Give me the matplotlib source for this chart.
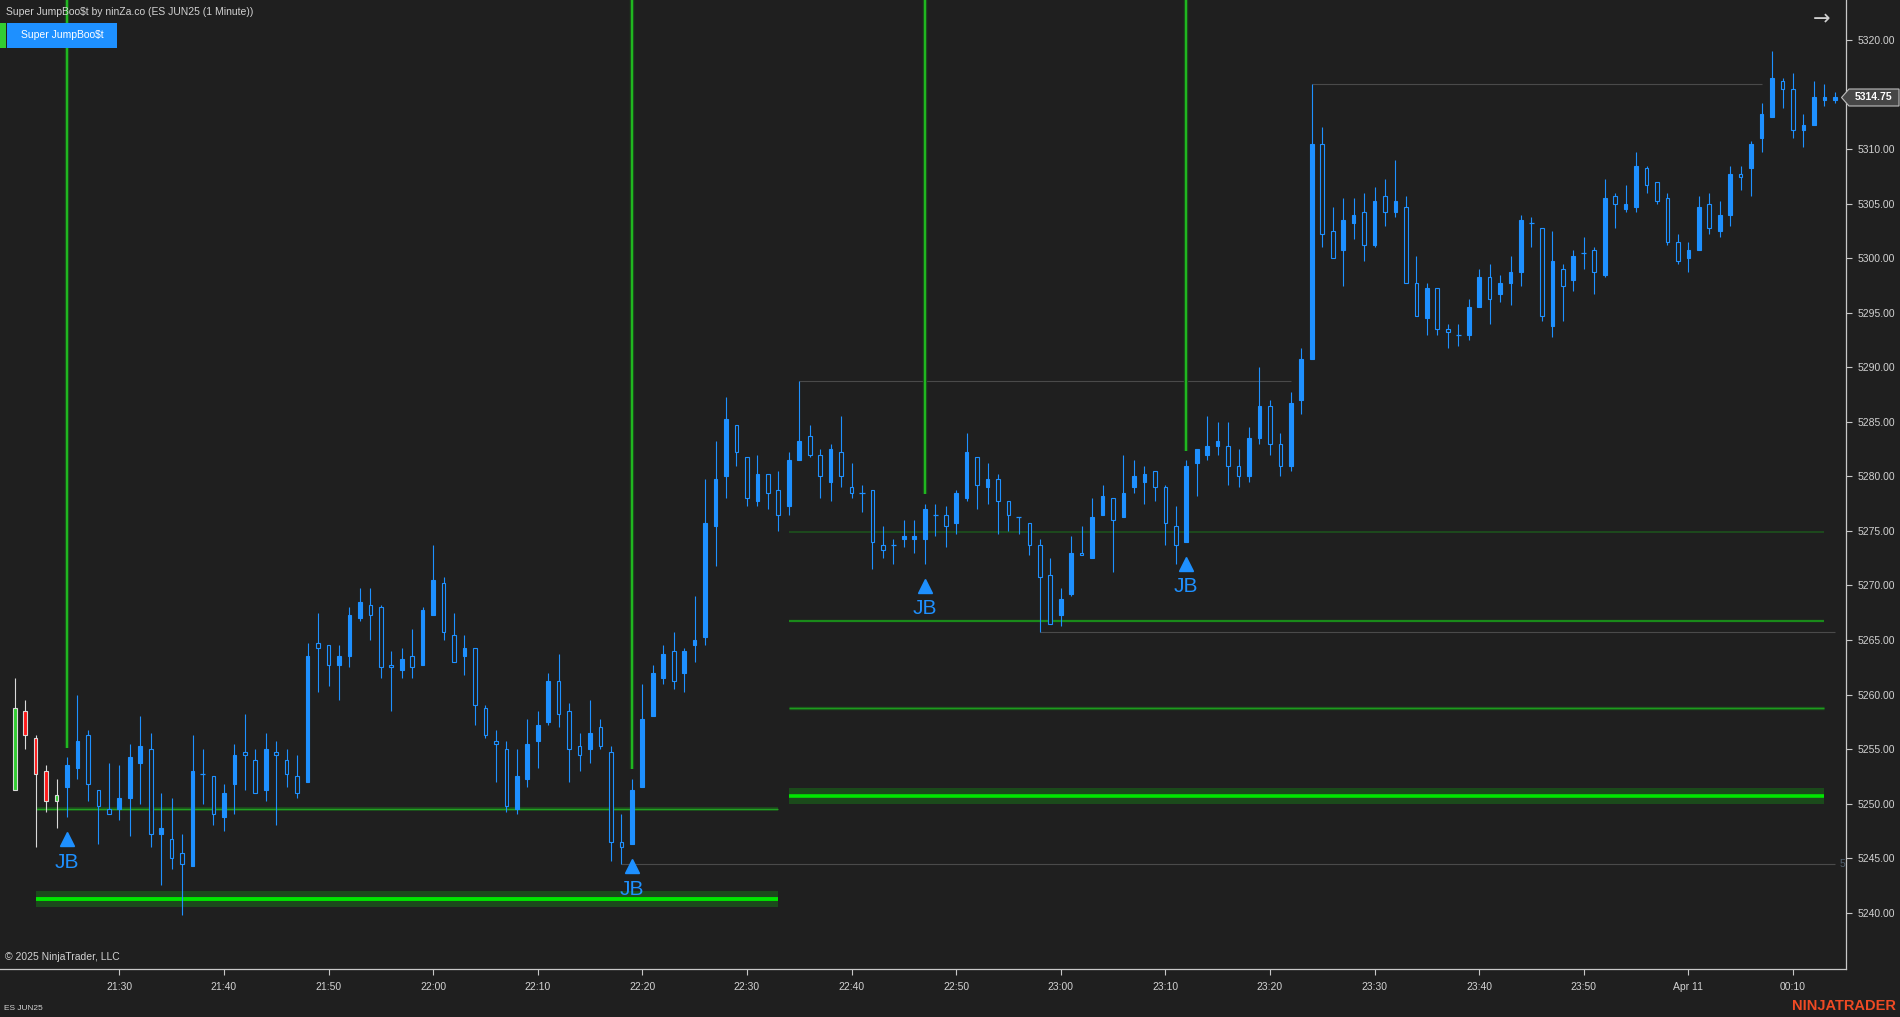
import matplotlib
matplotlib.use("Agg")
import matplotlib.pyplot as plt
from matplotlib.patches import Rectangle, Polygon
from matplotlib.transforms import offset_copy

plt.rcParams['font.family'] = ['Liberation Sans', 'DejaVu Sans']

# ES JUN25, 1 minute bars, index 0 = 21:20
opens = [5251.25, 5258.5, 5256.0, 5253.0, 5250.25, 5251.5, 5253.25, 5256.25, 5251.25, 5249.5,
         5249.5, 5250.5, 5253.75, 5255.0, 5247.25, 5246.75, 5245.5, 5244.25, 5252.75, 5252.5,
         5248.75, 5251.75, 5254.75, 5254.0, 5251.25, 5254.75, 5254.0, 5252.5, 5252.0, 5264.75,
         5264.5, 5262.75, 5263.5, 5267.0, 5268.25, 5268.0, 5262.75, 5262.25, 5263.5, 5262.75,
         5267.25, 5270.25, 5265.5, 5263.5, 5264.25, 5258.75, 5255.75, 5255.0, 5249.5, 5252.25,
         5255.75, 5257.5, 5261.25, 5258.5, 5255.25, 5255.0, 5257.0, 5254.75, 5246.5, 5246.25,
         5251.5, 5258.0, 5261.5, 5264.0, 5262.0, 5264.5, 5265.25, 5275.5, 5280.0, 5284.75,
         5281.75, 5277.75, 5280.25, 5278.75, 5277.25, 5281.5, 5283.75, 5282.0, 5279.5, 5282.25,
         5279.0, 5278.5, 5278.75, 5273.75, 5273.75, 5274.25, 5274.25, 5274.25, 5276.5, 5276.5,
         5275.75, 5278.0, 5281.75, 5279.0, 5279.75, 5277.75, 5276.25, 5275.75, 5273.75, 5271.0,
         5267.25, 5269.25, 5273.0, 5272.5, 5276.5, 5278.0, 5276.25, 5279.0, 5279.5, 5280.5,
         5279.0, 5275.5, 5274.0, 5281.25, 5282.0, 5282.75, 5282.75, 5281.0, 5280.0, 5283.5,
         5286.5, 5283.0, 5281.0, 5287.0, 5290.75, 5310.5, 5302.5, 5300.75, 5303.25, 5304.25,
         5301.25, 5305.75, 5304.25, 5304.75, 5297.75, 5294.5, 5297.25, 5293.5, 5293.0, 5293.0,
         5295.5, 5298.25, 5296.75, 5297.75, 5298.75, 5303.25, 5302.75, 5293.75, 5299.0, 5298.0,
         5300.5, 5300.75, 5298.5, 5305.75, 5304.5, 5304.75, 5308.25, 5307.0, 5305.5, 5301.5,
         5300.0, 5300.75, 5305.0, 5302.5, 5304.0, 5307.75, 5308.25, 5311.0, 5313.0, 5316.25,
         5315.5, 5311.75, 5312.25, 5314.5, 5314.5]
highs = [5261.5, 5259.5, 5256.25, 5253.5, 5252.25, 5254.25, 5260.0, 5256.75, 5251.25, 5253.75,
         5253.5, 5255.5, 5258.0, 5256.5, 5251.0, 5250.5, 5247.25, 5256.25, 5255.0, 5252.5,
         5251.75, 5255.5, 5258.25, 5255.0, 5256.5, 5255.75, 5255.0, 5254.5, 5264.75, 5267.5,
         5264.5, 5264.5, 5268.0, 5269.75, 5269.75, 5268.25, 5264.0, 5264.25, 5266.0, 5268.0,
         5273.75, 5270.75, 5267.5, 5265.5, 5264.25, 5259.0, 5256.75, 5255.75, 5255.0, 5257.75,
         5258.5, 5262.0, 5263.75, 5259.25, 5256.5, 5259.5, 5257.75, 5255.25, 5249.0, 5252.25,
         5261.0, 5262.75, 5264.5, 5265.75, 5264.25, 5269.0, 5279.75, 5283.25, 5287.25, 5284.75,
         5281.75, 5282.0, 5280.25, 5280.5, 5282.25, 5288.75, 5284.75, 5282.5, 5283.0, 5285.5,
         5281.25, 5279.25, 5278.75, 5275.5, 5274.25, 5276.0, 5276.0, 5277.5, 5277.5, 5277.25,
         5278.75, 5284.0, 5281.75, 5281.25, 5280.25, 5277.75, 5276.25, 5275.75, 5274.25, 5272.5,
         5269.75, 5274.5, 5275.5, 5278.0, 5279.25, 5278.0, 5282.0, 5281.5, 5281.0, 5280.5,
         5279.25, 5277.25, 5281.5, 5282.5, 5285.5, 5285.0, 5285.0, 5282.5, 5284.5, 5290.0,
         5287.0, 5284.0, 5287.75, 5291.75, 5316.0, 5312.0, 5304.75, 5305.5, 5305.5, 5306.0,
         5306.5, 5307.25, 5309.0, 5305.75, 5300.25, 5297.75, 5297.25, 5294.0, 5294.0, 5296.25,
         5299.0, 5299.5, 5298.5, 5300.25, 5304.0, 5303.75, 5302.75, 5302.5, 5299.5, 5300.75,
         5302.0, 5301.0, 5307.25, 5306.0, 5306.75, 5309.75, 5308.5, 5307.0, 5306.0, 5302.25,
         5301.5, 5305.75, 5306.0, 5305.25, 5308.5, 5308.5, 5310.75, 5314.25, 5319.0, 5316.5,
         5317.0, 5313.25, 5316.25, 5316.0, 5315.25]
lows = [5251.25, 5255.0, 5246.0, 5249.25, 5247.75, 5248.75, 5252.25, 5250.25, 5246.25, 5249.0,
        5248.5, 5247.0, 5250.0, 5246.0, 5242.5, 5244.0, 5239.75, 5244.25, 5250.0, 5248.0,
        5247.5, 5249.0, 5251.25, 5251.0, 5250.25, 5248.0, 5251.5, 5250.5, 5252.0, 5260.25,
        5260.75, 5259.5, 5262.5, 5266.75, 5265.0, 5261.5, 5258.5, 5261.5, 5261.5, 5262.75,
        5267.25, 5265.0, 5263.0, 5261.75, 5257.25, 5256.0, 5252.0, 5249.25, 5249.0, 5251.5,
        5253.25, 5257.25, 5257.0, 5252.0, 5253.0, 5253.75, 5255.0, 5244.75, 5244.5, 5246.25,
        5251.5, 5258.0, 5261.0, 5260.5, 5260.25, 5263.0, 5264.5, 5271.75, 5278.0, 5281.0,
        5277.25, 5277.25, 5277.0, 5275.0, 5276.5, 5281.5, 5281.75, 5278.0, 5277.75, 5279.0,
        5278.0, 5276.75, 5271.5, 5272.5, 5272.0, 5273.5, 5273.0, 5272.0, 5274.5, 5273.5,
        5274.75, 5277.75, 5277.0, 5277.5, 5274.75, 5275.0, 5274.75, 5272.75, 5265.75, 5266.5,
        5266.25, 5269.0, 5272.75, 5272.5, 5276.5, 5271.25, 5276.25, 5278.5, 5277.5, 5277.75,
        5273.75, 5272.0, 5274.0, 5278.25, 5281.5, 5282.0, 5279.25, 5279.0, 5279.5, 5283.0,
        5282.0, 5280.0, 5280.5, 5285.75, 5290.75, 5301.0, 5300.0, 5297.5, 5301.75, 5299.75,
        5301.0, 5303.0, 5303.75, 5297.75, 5294.75, 5293.0, 5293.0, 5291.75, 5292.0, 5292.5,
        5295.5, 5294.0, 5296.0, 5295.75, 5297.5, 5301.0, 5294.25, 5292.75, 5294.25, 5297.0,
        5299.0, 5296.75, 5298.25, 5302.75, 5304.25, 5304.25, 5306.0, 5305.0, 5301.25, 5299.5,
        5298.75, 5300.75, 5302.25, 5302.0, 5303.0, 5306.25, 5305.75, 5309.75, 5313.0, 5313.75,
        5311.0, 5310.25, 5312.25, 5314.0, 5314.25]
closes = [5258.75, 5256.25, 5252.75, 5250.25, 5250.75, 5253.5, 5255.75, 5251.75, 5249.75, 5249.0,
          5250.5, 5254.25, 5255.25, 5247.25, 5247.75, 5245.0, 5244.5, 5253.0, 5252.75, 5249.0,
          5251.0, 5254.5, 5254.5, 5251.0, 5255.0, 5254.5, 5252.75, 5251.0, 5263.5, 5264.25,
          5262.75, 5263.5, 5267.25, 5268.5, 5267.25, 5262.5, 5262.5, 5263.25, 5262.5, 5267.75,
          5270.5, 5265.75, 5263.0, 5264.25, 5259.0, 5256.25, 5255.5, 5249.75, 5252.5, 5255.5,
          5257.25, 5261.25, 5258.25, 5255.0, 5254.5, 5256.5, 5255.25, 5246.5, 5246.0, 5251.25,
          5257.75, 5262.0, 5263.75, 5261.25, 5264.0, 5265.0, 5275.75, 5279.75, 5285.25, 5282.25,
          5278.0, 5280.25, 5278.5, 5276.5, 5281.5, 5283.25, 5282.0, 5280.0, 5282.5, 5280.0,
          5278.5, 5278.5, 5274.0, 5273.25, 5273.75, 5274.5, 5274.5, 5277.0, 5276.5, 5275.5,
          5278.5, 5282.25, 5279.25, 5279.75, 5277.75, 5276.5, 5276.25, 5273.75, 5270.75, 5266.5,
          5268.75, 5273.0, 5272.75, 5276.25, 5278.25, 5276.0, 5278.5, 5280.0, 5280.25, 5279.0,
          5275.75, 5273.75, 5281.0, 5282.5, 5282.75, 5283.25, 5281.0, 5280.0, 5283.5, 5286.5,
          5283.0, 5281.0, 5286.75, 5290.75, 5310.5, 5302.25, 5300.0, 5303.5, 5304.0, 5301.25,
          5305.25, 5304.25, 5305.25, 5297.75, 5294.75, 5297.25, 5293.5, 5293.25, 5293.0, 5295.5,
          5298.25, 5296.25, 5297.75, 5298.75, 5303.5, 5303.25, 5294.75, 5299.75, 5297.5, 5300.25,
          5300.5, 5298.75, 5305.5, 5305.0, 5305.0, 5308.5, 5306.75, 5305.25, 5301.5, 5299.75,
          5300.75, 5304.75, 5302.75, 5304.0, 5307.75, 5307.5, 5310.5, 5313.25, 5316.5, 5315.5,
          5311.75, 5312.25, 5314.75, 5314.75, 5314.75]

time_ticks = [10, 20, 30, 40, 50, 60, 70, 80, 90, 100, 110, 120, 130, 140, 150, 160, 170]
time_labels = ['21:30', '21:40', '21:50', '22:00', '22:10', '22:20', '22:30', '22:40', '22:50',
               '23:00', '23:10', '23:20', '23:30', '23:40', '23:50', 'Apr 11', '00:10']
price_ticks = [5240, 5245, 5250, 5255, 5260, 5265, 5270, 5275, 5280, 5285, 5290, 5295,
               5300, 5305, 5310, 5315, 5320]

# JumpBoost signals
signal_bars = [5, 59, 87, 112]
signal_line_end = [5255.1, 5253.2, 5278.4, 5282.3]

# zones: first one from bar 2 to 73, second from bar 74 to 173
zone1_span = [2, 73]
zone1_line = 5249.5
zone1_band = [5240.55, 5241.25, 5241.95]
zone2_span = [74, 173]
zone2_lines = [5274.9, 5266.7, 5258.75]
zone2_band = [5249.95, 5250.7, 5251.4]

# swing lines: level, from bar, to bar
swing_levels = [5288.75, 5316.0, 5265.75, 5244.5]
swing_from = [75, 124, 98, 58]
swing_to = [122, 167, 174, 174]

last_price = 5314.75

BG = '#1f1f1f'
BLUE = '#1e90ff'
TXT = '#d2d2d2'
W, H = 1900, 1017

fig = plt.figure(figsize=(19, 10.17), dpi=100, facecolor=BG)
ax = fig.add_axes([0, 48 / H, 1846 / W, 969 / H], facecolor=BG)
ax.set_xlim(-1.405, 175.07)
ax.set_ylim(5234.83, 5323.69)

# zones
ax.hlines(zone1_line, *zone1_span, color='#1b4f1b', lw=2.6, zorder=1)
ax.hlines(zone1_line, *zone1_span, color='#23a023', lw=0.9, zorder=1)
ax.fill_between(zone1_span, zone1_band[0], zone1_band[2], color='#1b4a1b', lw=0, zorder=1)
ax.hlines(zone1_band[1], *zone1_span, color='#00e600', lw=2.8, zorder=1)

ax.hlines(zone2_lines[0], *zone2_span, color='#1d4a1d', lw=1.4, zorder=1)
ax.hlines(zone2_lines[1], *zone2_span, color='#1a8a1a', lw=1.6, zorder=1)
ax.hlines(zone2_lines[2], *zone2_span, color='#1b4f1b', lw=2.4, zorder=1)
ax.hlines(zone2_lines[2], *zone2_span, color='#1e9a1e', lw=1.0, zorder=1)
ax.fill_between(zone2_span, zone2_band[0], zone2_band[2], color='#1b4a1b', lw=0, zorder=1)
ax.hlines(zone2_band[1], *zone2_span, color='#00e600', lw=2.6, zorder=1)

for lv, a, b in zip(swing_levels, swing_from, swing_to):
    ax.hlines(lv, a, b, color='#4a4a4a', lw=0.8, zorder=1)
ax.text(174.5, swing_levels[3], '5', color='#51606e', fontsize=7.5, va='center', ha='left')

# signal lines
top = ax.get_ylim()[1]
for b, e in zip(signal_bars, signal_line_end):
    ax.vlines(b, e, top, color='#1b4f1b', lw=3.1, zorder=1.5)
    ax.vlines(b, e, top, color='#22cc22', lw=1.2, zorder=1.6)

# candles
for i, (o, h, l, c) in enumerate(zip(opens, highs, lows, closes)):
    if i < 5:
        edge = '#d9d9d9'
        face = '#32cd32' if c > o else '#ff1a1a'
    else:
        edge = BLUE
        face = BLUE if c > o else BG
    ax.vlines(i, l, h, color=edge, lw=0.8, zorder=2)
    if c == o:
        ax.hlines(o, i - 0.24, i + 0.24, color=edge, lw=0.9, zorder=3)
    else:
        ax.add_patch(Rectangle((i - 0.175, min(o, c)), 0.35, abs(c - o),
                               facecolor=face, edgecolor=edge, lw=0.8, zorder=3))

# JB markers
tri_tr = offset_copy(ax.transData, fig=fig, x=0, y=-22, units='dots')
jb_tr = offset_copy(ax.transData, fig=fig, x=0, y=-45, units='dots')
for b in signal_bars:
    ax.plot(b, lows[b], marker='^', ms=10, color=BLUE, mec=BLUE, transform=tri_tr, zorder=4)
    ax.text(b, lows[b], 'JB', color=BLUE, fontsize=15, ha='center', va='center',
            transform=jb_tr, zorder=4)

# axes styling
for s in ['left', 'top']:
    ax.spines[s].set_visible(False)
for s in ['right', 'bottom']:
    ax.spines[s].set_color('#c8c8c8')
    ax.spines[s].set_linewidth(0.9)
ax.yaxis.tick_right()
ax.set_yticks(price_ticks)
ax.set_yticklabels(['%.2f' % p for p in price_ticks])
ax.set_xticks(time_ticks)
ax.set_xticklabels(time_labels)
ax.tick_params(axis='both', colors='#c8c8c8', labelcolor=TXT, labelsize=7.5,
               length=4.5, width=0.8)
ax.tick_params(axis='y', pad=4)
ax.tick_params(axis='x', pad=5)


def fx(px):
    return px / W


def fy(py):
    return 1 - py / H


# header
fig.text(fx(6), fy(12), 'Super JumpBoo$t by ninZa.co (ES JUN25 (1 Minute))', color=TXT,
         fontsize=7.5, va='center', ha='left')
fig.patches.append(Rectangle((fx(0), fy(47.7)), fx(6), 24.7 / H, transform=fig.transFigure,
                             facecolor='#32cd32', lw=0, zorder=5))
fig.patches.append(Rectangle((fx(7), fy(47.7)), fx(110), 24.7 / H, transform=fig.transFigure,
                             facecolor=BLUE, lw=0, zorder=5))
fig.text(fx(62), fy(35.5), 'Super JumpBoo$t', color='white', fontsize=7.5, va='center',
         ha='center', zorder=6)
fig.text(fx(1822), fy(19), '\u2192', color='#d0d0d0', fontsize=15, va='center', ha='center',
         family='DejaVu Sans')

# last price marker
box = [(1841.5, 97.5), (1849, 89), (1899, 89), (1899, 106), (1849, 106)]
fig.patches.append(Polygon([(fx(x), fy(y)) for x, y in box], closed=True,
                           transform=fig.transFigure, facecolor='#464646',
                           edgecolor='#bdbdbd', lw=0.8, zorder=5))
fig.text(fx(1874), fy(97.5), '%.2f' % last_price, color='white', fontsize=7.5,
         fontweight='bold', va='center', ha='center', zorder=6)

# footer
fig.text(fx(5), fy(957), '\u00a9 2025 NinjaTrader, LLC', color=TXT, fontsize=7.5,
         va='center', ha='left')
fig.text(fx(4), fy(1008), 'ES JUN25', color=TXT, fontsize=6, va='center', ha='left')
fig.text(fx(1896), fy(1006), 'NINJATRADER', color='#ef4a24', fontsize=10.5,
         fontweight='bold', va='center', ha='right')

fig.savefig('out.png', dpi=100, facecolor=BG)
